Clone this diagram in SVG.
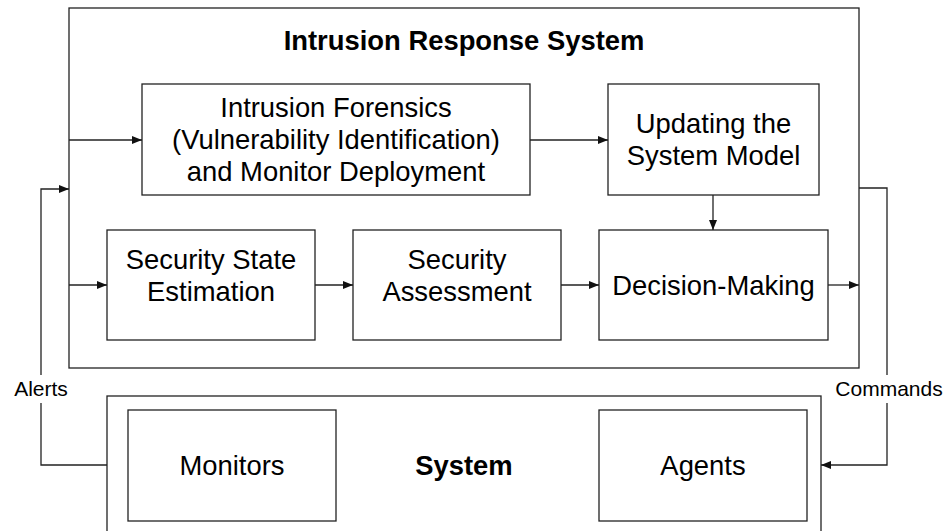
<svg xmlns="http://www.w3.org/2000/svg" width="948" height="531" viewBox="0 0 948 531">
<style>
.box{fill:#fff;stroke:#222;stroke-width:1.3}
.frame{fill:none;stroke:#222;stroke-width:1.3}
.t{font-family:"Liberation Sans",Arial,sans-serif;font-size:27.4px;fill:#000;text-anchor:middle}
.b{font-weight:bold}
.lbl{font-family:"Liberation Sans",Arial,sans-serif;font-size:21px;fill:#000;text-anchor:middle}
.c{fill:none;stroke:#222;stroke-width:1.3}
</style>
<defs>
<marker id="ah" viewBox="0 0 10 8" refX="10" refY="4" markerWidth="10" markerHeight="8" markerUnits="userSpaceOnUse" orient="auto">
<path d="M0,0 L10,4 L0,8 z" fill="#111"/>
</marker>
</defs>
<rect width="948" height="531" fill="#fff"/>
<g id="irs">
<rect class="frame" x="69" y="8" width="790" height="360"/>
<text class="t b" x="464" y="50">Intrusion Response System</text>
</g>
<g id="system">
<rect class="frame" x="107" y="396" width="714" height="150"/>
<text class="t b" x="464" y="475">System</text>
</g>
<g id="forensics">
<rect class="box" x="142" y="84" width="388" height="111"/>
<text class="t" x="336" y="117">Intrusion Forensics</text>
<text class="t" x="336" y="149">(Vulnerability Identification)</text>
<text class="t" x="336" y="181">and Monitor Deployment</text>
</g>
<g id="updating">
<rect class="box" x="608" y="84" width="211" height="111"/>
<text class="t" x="713.5" y="133">Updating the</text>
<text class="t" x="713.5" y="165">System Model</text>
</g>
<g id="sse">
<rect class="box" x="107" y="230" width="208" height="110"/>
<text class="t" x="211" y="269">Security State</text>
<text class="t" x="211" y="301">Estimation</text>
</g>
<g id="sa">
<rect class="box" x="353" y="230" width="208" height="110"/>
<text class="t" x="457" y="269">Security</text>
<text class="t" x="457" y="301">Assessment</text>
</g>
<g id="dm">
<rect class="box" x="599" y="230" width="229" height="110"/>
<text class="t" x="713.5" y="295">Decision-Making</text>
</g>
<g id="monitors">
<rect class="box" x="128" y="410" width="208" height="111"/>
<text class="t" x="232" y="475">Monitors</text>
</g>
<g id="agents">
<rect class="box" x="599" y="410" width="208" height="111"/>
<text class="t" x="703" y="475">Agents</text>
</g>
<g id="connectors">
<path class="c" d="M69,140 H142" marker-end="url(#ah)"/>
<path class="c" d="M530,140 H608" marker-end="url(#ah)"/>
<path class="c" d="M713,195 V230" marker-end="url(#ah)"/>
<path class="c" d="M69,285 H107" marker-end="url(#ah)"/>
<path class="c" d="M315,285 H353" marker-end="url(#ah)"/>
<path class="c" d="M561,285 H599" marker-end="url(#ah)"/>
<path class="c" d="M828,285 H859" marker-end="url(#ah)"/>
<path class="c" d="M107,465 H41 V189 H69" marker-end="url(#ah)"/>
<path class="c" d="M859,188 H887 V465 H821" marker-end="url(#ah)"/>
<rect x="8" y="375" width="66" height="28" fill="#fff"/>
<text class="lbl" x="41" y="395.5">Alerts</text>
<rect x="834" y="375" width="111" height="28" fill="#fff"/>
<text class="lbl" x="889" y="395.5">Commands</text>
</g>
</svg>
